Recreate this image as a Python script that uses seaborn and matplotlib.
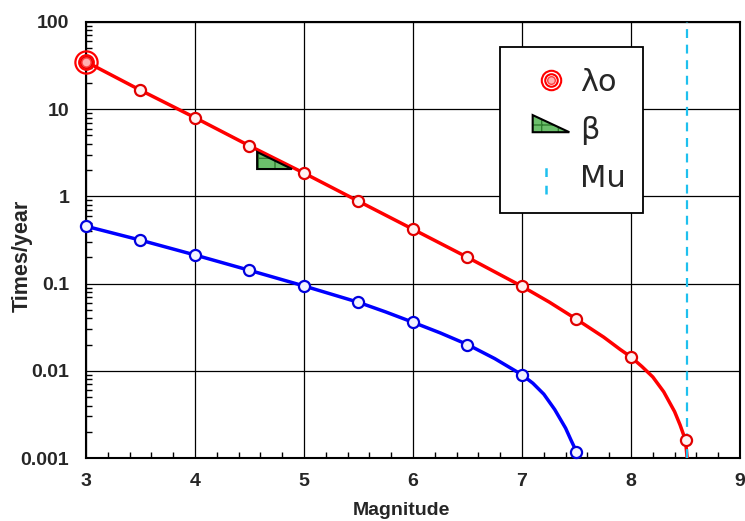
import matplotlib
matplotlib.use('Agg')
import matplotlib.pyplot as plt
import pandas as pd
import seaborn as sns
from matplotlib.patches import Polygon, Rectangle
from matplotlib.lines import Line2D
from matplotlib.legend_handler import HandlerPatch
from matplotlib.ticker import LogLocator, MultipleLocator, NullFormatter

# Values
mag_red = [3.0, 3.5, 4.0, 4.5, 5.0, 5.5, 6.0, 6.5, 7.0, 7.5, 8.0, 8.5]
rate_red = [35, 16.5, 8.0, 3.8, 1.85, 0.88, 0.42, 0.20, 0.093, 0.039, 0.0144, 0.0016]
mag_blue = [3.0, 3.5, 4.0, 4.5, 5.0, 5.5, 6.0, 6.5, 7.0, 7.5]
rate_blue = [0.455, 0.315, 0.213, 0.142, 0.094, 0.061, 0.036, 0.020, 0.009, 0.00118]

# traced curves (more points near the upper cut-off)
curve_red_mag = [3.0, 3.5, 4.0, 4.5, 5.0, 5.5, 6.0, 6.5, 7.0, 7.25, 7.5, 7.75, 7.9,
                 8.0, 8.1, 8.2, 8.3, 8.4, 8.45, 8.5, 8.515]
curve_red_rate = [35, 16.5, 8.0, 3.8, 1.85, 0.88, 0.42, 0.20, 0.093, 0.0614, 0.039, 0.0243, 0.0176,
                  0.0144, 0.0112, 0.0085, 0.00575, 0.0034, 0.0024, 0.0016, 0.001]
curve_blue_mag = [3.0, 3.5, 4.0, 4.5, 5.0, 5.5, 5.75, 6.0, 6.25, 6.5, 6.75, 7.0, 7.1,
                  7.2, 7.3, 7.4, 7.45, 7.5, 7.505]
curve_blue_rate = [0.455, 0.315, 0.213, 0.142, 0.094, 0.061, 0.0473, 0.036, 0.0272, 0.020, 0.0138, 0.009,
                   0.0072, 0.0054, 0.0036, 0.0022, 0.0016, 0.00118, 0.001]

lam0_mag = [3.0]
lam0_rate = [35]
beta_tri_mag = [4.57, 4.57, 4.89]
beta_tri_rate = [3.23, 2.06, 2.06]
mu_mag = 8.51

x_ticks = [3, 4, 5, 6, 7, 8, 9]
y_ticks = [0.001, 0.01, 0.1, 1, 10, 100]
y_tick_labels = ['0.001', '0.01', '0.1', '1', '10', '100']

sns.set_theme(style='white')
plt.rcParams['font.family'] = ['Liberation Sans', 'DejaVu Sans']

fig = plt.figure(figsize=(7.45, 5.21), dpi=100)
ax = fig.add_axes([0.1154, 0.1209, 0.8779, 0.8369])
ax.set_yscale('log')

red_df = pd.DataFrame({'mag': curve_red_mag, 'rate': curve_red_rate})
blue_df = pd.DataFrame({'mag': curve_blue_mag, 'rate': curve_blue_rate})
sns.lineplot(data=red_df, x='mag', y='rate', color='#ff0000', lw=2.5, sort=False,
             estimator=None, ax=ax, zorder=3)
sns.lineplot(data=blue_df, x='mag', y='rate', color='#0000ff', lw=2.5, sort=False,
             estimator=None, ax=ax, zorder=3)

sns.scatterplot(x=mag_red, y=rate_red, color='#fff2f2', edgecolor='#e00000', linewidth=1.6,
                s=64, ax=ax, zorder=5, clip_on=False)
sns.scatterplot(x=mag_blue, y=rate_blue, color='#f2f2ff', edgecolor='#0000dd', linewidth=1.6,
                s=64, ax=ax, zorder=5, clip_on=False)

# lambda0 marker (concentric rings)
ax.plot(lam0_mag, lam0_rate, 'o', ms=16, mfc='none', mec='red', mew=1.6, zorder=6, clip_on=False)
ax.plot(lam0_mag, lam0_rate, 'o', ms=10.5, mfc='none', mec='red', mew=1.6, zorder=6, clip_on=False)
ax.plot(lam0_mag, lam0_rate, 'o', ms=6.5, mfc='#ffb0b0', mec='#ff4040', mew=1.0, zorder=6, clip_on=False)

# beta triangle
tri_pts = list(zip(beta_tri_mag, beta_tri_rate))
ax.add_patch(Polygon(tri_pts, closed=True, facecolor='#6cbf6c', edgecolor='#2f7d2f',
                     hatch='+', lw=0, zorder=4))
ax.add_patch(Polygon(tri_pts, closed=True, fill=False, edgecolor='black', lw=1.5, zorder=4))

# Mu line
ax.axvline(mu_mag, color='#1ec0ee', lw=1.6, dashes=(4, 3), zorder=3)

ax.set_xlim(3, 9)
ax.set_ylim(0.001, 100)
ax.set_xticks(x_ticks)
ax.set_xticklabels([str(t) for t in x_ticks])
ax.set_yticks(y_ticks)
ax.set_yticklabels(y_tick_labels)
ax.xaxis.set_minor_locator(MultipleLocator(0.2))
ax.yaxis.set_minor_locator(LogLocator(base=10, subs=range(2, 10)))
ax.yaxis.set_minor_formatter(NullFormatter())

ax.grid(which='major', color='black', lw=0.9)
ax.set_axisbelow(True)
ax.tick_params(which='major', direction='in', length=0, labelsize=14)
ax.tick_params(axis='x', which='major', pad=11)
ax.tick_params(axis='y', which='major', pad=12)
ax.tick_params(which='minor', direction='in', length=4, width=1, color='black',
               bottom=True, left=True, top=False, right=False)
for lab in ax.get_xticklabels() + ax.get_yticklabels():
    lab.set_fontweight('bold')
for sp in ax.spines.values():
    sp.set_color('black')
    sp.set_linewidth(1.5)

ax.set_xlabel('Magnitude', fontsize=14, fontweight='bold')
ax.set_ylabel('Times/year', fontsize=15.5, fontweight='bold')
ax.xaxis.set_label_coords(0.483, -0.1)
ax.yaxis.set_label_coords(-0.081, 0.463)

# legend box
ax.add_patch(Rectangle((0.633, 0.562), 0.219, 0.381, transform=ax.transAxes,
                       facecolor='white', edgecolor='black', lw=1.3, zorder=7))

lam_h = (Line2D([], [], marker='o', ls='none', ms=14, mfc='none', mec='red', mew=1.5),
         Line2D([], [], marker='o', ls='none', ms=9, mfc='none', mec='red', mew=1.5),
         Line2D([], [], marker='o', ls='none', ms=5.5, mfc='#ffb0b0', mec='#ff4040', mew=1.0))
beta_h = (Polygon([[0, 0]], facecolor='#6cbf6c', edgecolor='#2f7d2f', hatch='+', lw=0),
          Polygon([[0, 0]], fill=False, edgecolor='black', lw=1.5))
mu_h = Line2D([], [], color='#1ec0ee')


def tri_patch(legend, orig_handle, xdescent, ydescent, width, height, fontsize):
    x0, y0 = -xdescent, -ydescent + height * 0.3
    return Polygon([[x0, y0 + height * 0.8], [x0, y0], [x0 + width, y0]], closed=True)


class VerticalDash:
    def legend_artist(self, legend, orig_handle, fontsize, handlebox):
        x0, y0 = handlebox.xdescent, handlebox.ydescent
        w, h = handlebox.width, handlebox.height
        line = Line2D([x0 + w * 0.35] * 2, [y0 - h * 0.35, y0 + h * 1.05], color='#1ec0ee',
                      lw=1.8, dashes=(3.5, 3.5))
        handlebox.add_artist(line)
        return line


leg = ax.legend([lam_h, beta_h, mu_h], ['λo', 'β', 'Mu'],
                handler_map={Polygon: HandlerPatch(patch_func=tri_patch), mu_h: VerticalDash()},
                loc='center left', bbox_to_anchor=(0.683, 0.752), frameon=False,
                prop={'family': 'DejaVu Sans', 'size': 22}, handlelength=1.2,
                handletextpad=0.35, labelspacing=0.62, borderpad=0, borderaxespad=0)
leg.set_zorder(8)

fig.savefig('out.png', dpi=100)
